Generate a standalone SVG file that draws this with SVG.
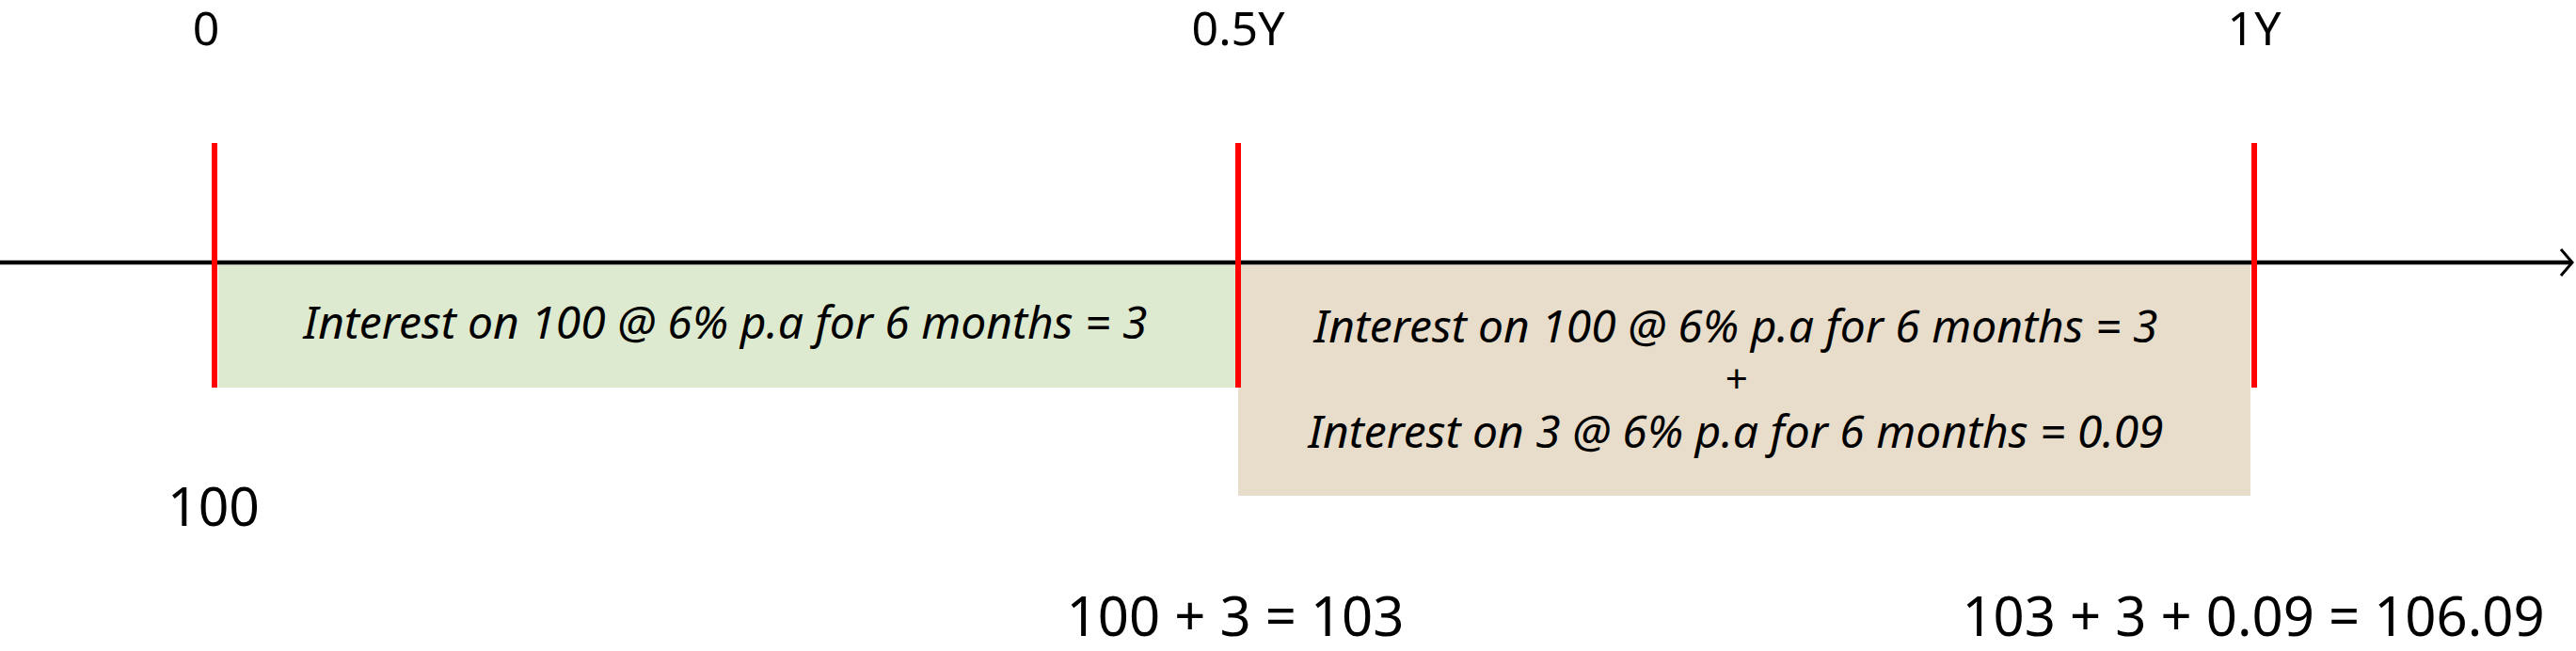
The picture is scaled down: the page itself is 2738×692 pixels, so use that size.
<svg xmlns="http://www.w3.org/2000/svg" width="2738" height="692" viewBox="0 0 2738 692">
<style>
.lbl{font-family:"Noto Sans","Open Sans",sans-serif;fill:#000;text-anchor:middle}
.it{font-family:"Noto Sans","Open Sans",sans-serif;font-style:italic;fill:#000;text-anchor:middle;font-size:48px}
.tick{stroke:#FF0000;stroke-width:6}
</style>
<defs>
<marker id="arr" markerWidth="20" markerHeight="40" refX="14" refY="15" orient="auto" markerUnits="userSpaceOnUse" viewBox="0 0 20 30">
<path d="M2,1 L14,15 L2,29" fill="none" stroke="#000" stroke-width="3"/>
</marker>
</defs>
<rect width="2738" height="692" fill="#fff"/>
<g id="box1">
<rect x="232" y="280" width="1083" height="132" fill="#DEEACF"/>
<text class="it" x="771" y="360">Interest on 100 @ 6% p.a for 6 months = 3</text>
</g>
<g id="box2">
<rect x="1316" y="280" width="1076" height="247" fill="#E8DDCA"/>
<text class="it" x="1845" y="364">Interest on 100 @ 6% p.a for 6 months = 3</text>
<text class="it" x="1845" y="418" style="font-size:42px">+</text>
<text class="it" x="1845" y="476">Interest on 3 @ 6% p.a for 6 months = 0.09</text>
</g>
<g id="connectors">
<line x1="0" y1="279" x2="2734" y2="279" stroke="#000" stroke-width="4.5" marker-end="url(#arr)"/>
</g>
<g id="tick0"><line class="tick" x1="228" y1="152" x2="228" y2="412"/></g>
<g id="tick05"><line class="tick" x1="1316" y1="152" x2="1316" y2="412"/></g>
<g id="tick1"><line class="tick" x1="2396" y1="152" x2="2396" y2="412"/></g>
<g id="labels">
<text class="lbl" x="219" y="48" font-size="50">0</text>
<text class="lbl" x="1316" y="48" font-size="50">0.5Y</text>
<text class="lbl" x="2396" y="48" font-size="50">1Y</text>
<text class="lbl" x="227" y="559" font-size="57">100</text>
<text class="lbl" x="1313" y="676" font-size="58">100 + 3 = 103</text>
<text class="lbl" x="2395" y="676" font-size="58">103 + 3 + 0.09 = 106.09</text>
</g>
</svg>
